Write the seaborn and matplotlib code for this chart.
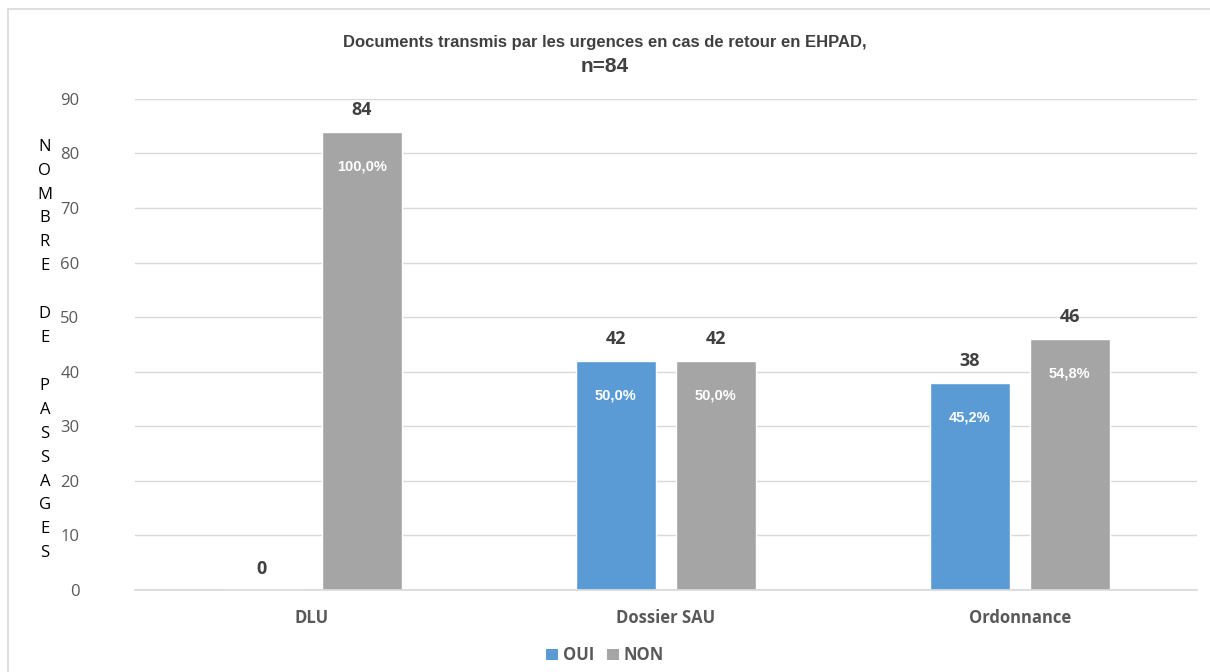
import matplotlib
matplotlib.use("Agg")
import matplotlib.pyplot as plt
import seaborn as sns
import pandas as pd
from matplotlib.patches import Rectangle, Patch

categories = ["DLU", "Dossier SAU", "Ordonnance"]
series = ["OUI", "NON"]
oui_values = [0, 42, 38]
non_values = [84, 42, 46]
oui_pct = ["", "50,0%", "45,2%"]
non_pct = ["100,0%", "50,0%", "54,8%"]
yticks = [0, 10, 20, 30, 40, 50, 60, 70, 80, 90]
title_line1 = "Documents transmis par les urgences en cas de retour en EHPAD,"
title_line2 = "n=84"
ylabel_word = "NOMBRE DE PASSAGES"

colors = {"OUI": "#5B9BD5", "NON": "#A5A5A5"}

df = pd.DataFrame({
    "cat": categories * 2,
    "serie": ["OUI"] * 3 + ["NON"] * 3,
    "val": oui_values + non_values,
    "pct": oui_pct + non_pct,
})

sns.set_theme(style="white")
plt.rcParams["font.family"] = ["Open Sans", "DejaVu Sans"]

fig = plt.figure(figsize=(12.10, 6.72), dpi=100)
ax = fig.add_axes([0.1116, 0.122, 0.8774, 0.731])

sns.barplot(data=df, x="cat", y="val", hue="serie", hue_order=series,
            order=categories, palette=colors, width=0.565, gap=0.2,
            saturation=1, ax=ax, legend=False, errorbar=None)

ax.set_ylim(0, 90)
ax.set_xlim(-0.5, 2.5)
ax.set_yticks(yticks)
ax.set_yticklabels([str(t) for t in yticks], fontsize=12, color="#595959")
ax.grid(axis="y", color="#D9D9D9", linewidth=1)
ax.set_axisbelow(True)
for s in ["top", "right", "left"]:
    ax.spines[s].set_visible(False)
ax.spines["bottom"].set_color("#D9D9D9")
ax.tick_params(axis="y", length=0, pad=40)
ax.tick_params(axis="x", length=0, pad=14)
ax.set_xticks(range(len(categories)))
ax.set_xticklabels(categories, fontsize=12, fontweight="bold", color="#595959")
ax.set_xlabel("")
ax.set_ylabel("")

# labels
for container, serie in zip(ax.containers, series):
    sub = df[df["serie"] == serie].set_index("cat").loc[categories]
    for bar, (_, row) in zip(container, sub.iterrows()):
        xc = bar.get_x() + bar.get_width() / 2
        h = bar.get_height()
        ax.annotate(str(int(row["val"])), (xc, h), xytext=(0, 9),
                    textcoords="offset points", ha="center", va="bottom",
                    fontsize=13, fontweight="bold", color="#404040",
                    family=["Open Sans", "DejaVu Sans"])
        if row["pct"]:
            ax.annotate(row["pct"], (xc, h), xytext=(0, -25),
                        textcoords="offset points", ha="center", va="center",
                        fontsize=10.5, fontweight="bold", color="white",
                        family=["Liberation Sans", "DejaVu Sans"])

fig.text(0.5, 1 - 42 / 672, title_line1, ha="center", va="center",
         fontsize=12, fontweight="bold", color="#404040",
         family=["Liberation Sans", "DejaVu Sans"])
fig.text(0.5, 1 - 67 / 672, title_line2, ha="center", va="center",
         fontsize=15, fontweight="bold", color="#404040",
         family=["Liberation Sans", "DejaVu Sans"])

fig.text(0.037, 1 - 350 / 672, "\n".join(list(ylabel_word)).replace("\n \n", "\n\n"),
         ha="center", va="center", fontsize=12, color="#000000",
         linespacing=1.66)

handles = [Patch(facecolor=colors[s], edgecolor="none") for s in series]
leg = fig.legend(handles, series, loc="center", bbox_to_anchor=(0.5, 0.025),
                 ncol=2, frameon=False, handlelength=0.7, handleheight=0.7,
                 handletextpad=0.3, columnspacing=0.8,
                 prop={"size": 12, "weight": "bold"})
for t in leg.get_texts():
    t.set_color("#595959")

fig.patches.append(Rectangle((0.0066, -0.01), 1.0, 0.997, transform=fig.transFigure,
                             fill=False, edgecolor="#D9D9D9", linewidth=1.2))

fig.savefig("out.png", dpi=100)
